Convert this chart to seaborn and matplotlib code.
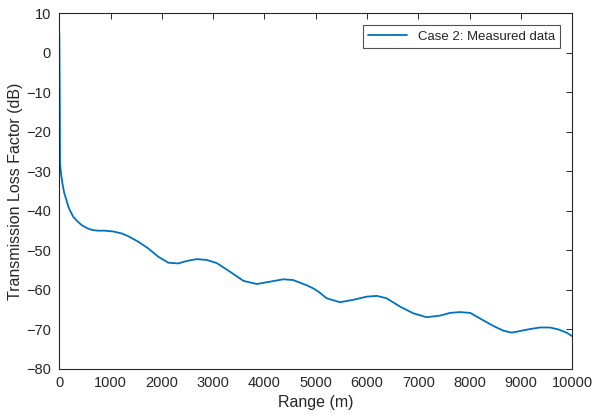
import numpy as np
import pandas as pd
import seaborn as sns
from matplotlib import pyplot as plt

# values
range_m = [0, 8, 14, 33, 60, 97, 140, 175, 220, 273, 350, 437, 530, 632, 750,
           890, 1050, 1215, 1345, 1540, 1735, 1930, 2125, 2320, 2420, 2550,
           2680, 2870, 3070, 3330, 3590, 3850, 4110, 4370, 4560, 4820, 4950,
           5050, 5210, 5470, 5730, 5990, 6190, 6380, 6640, 6900, 7160, 7420,
           7620, 7810, 8010, 8200, 8460, 8655, 8820, 8980, 9175, 9370, 9565,
           9730, 9890, 10000]
loss_db = [5.0, -10.0, -28.0, -30.5, -33.0, -35.5, -37.3, -38.9, -40.2, -41.5,
           -42.6, -43.6, -44.3, -44.8, -45.0, -45.0, -45.2, -45.7, -46.4, -47.8,
           -49.5, -51.6, -53.1, -53.3, -52.9, -52.5, -52.2, -52.4, -53.2, -55.4,
           -57.7, -58.5, -57.9, -57.3, -57.5, -58.8, -59.6, -60.4, -62.1, -63.1,
           -62.5, -61.7, -61.5, -62.1, -64.2, -65.9, -66.9, -66.5, -65.8, -65.6,
           -65.8, -67.2, -69.1, -70.3, -70.8, -70.4, -69.9, -69.5, -69.5, -70.0,
           -70.8, -71.7]
series_name = "Case 2: Measured data"
x_ticks = list(range(0, 10001, 1000))
y_ticks = list(range(-80, 11, 10))


def main():
    df = pd.DataFrame({"range": range_m, "loss": loss_db})

    sns.set_style("white")
    plt.rcParams["font.family"] = ["Liberation Sans", "DejaVu Sans"]
    edge = "#262626"

    fig = plt.figure(figsize=(5.93, 4.16), dpi=100)
    ax = fig.add_axes([0.100, 0.113, 0.865, 0.855])
    sns.lineplot(data=df, x="range", y="loss", color="#0072BD", linewidth=1.3,
                 label=series_name, ax=ax, sort=False)

    ax.set_xlim(0, 10000)
    ax.set_ylim(-80, 10)
    ax.set_xticks(x_ticks)
    ax.set_yticks(y_ticks)
    ax.set_xlabel("Range (m)", fontsize=11.5, color=edge, labelpad=4)
    ax.set_ylabel("Transmission Loss Factor (dB)", fontsize=11.5, color=edge,
                  labelpad=2)
    ax.tick_params(direction="in", length=4, width=0.7, top=True, right=True,
                   labelsize=10.5, colors=edge)
    ax.tick_params(axis="x", pad=5)
    ax.tick_params(axis="y", pad=6)
    for sp in ax.spines.values():
        sp.set_color(edge)
        sp.set_linewidth(0.8)

    leg = ax.legend(loc="upper right", fontsize=9.5, frameon=True, fancybox=False,
                    borderaxespad=0.9, handlelength=3.0, borderpad=0.4)
    leg.get_frame().set_edgecolor(edge)
    leg.get_frame().set_linewidth(0.8)

    fig.savefig("out.png", dpi=100)


if __name__ == "__main__":
    main()
